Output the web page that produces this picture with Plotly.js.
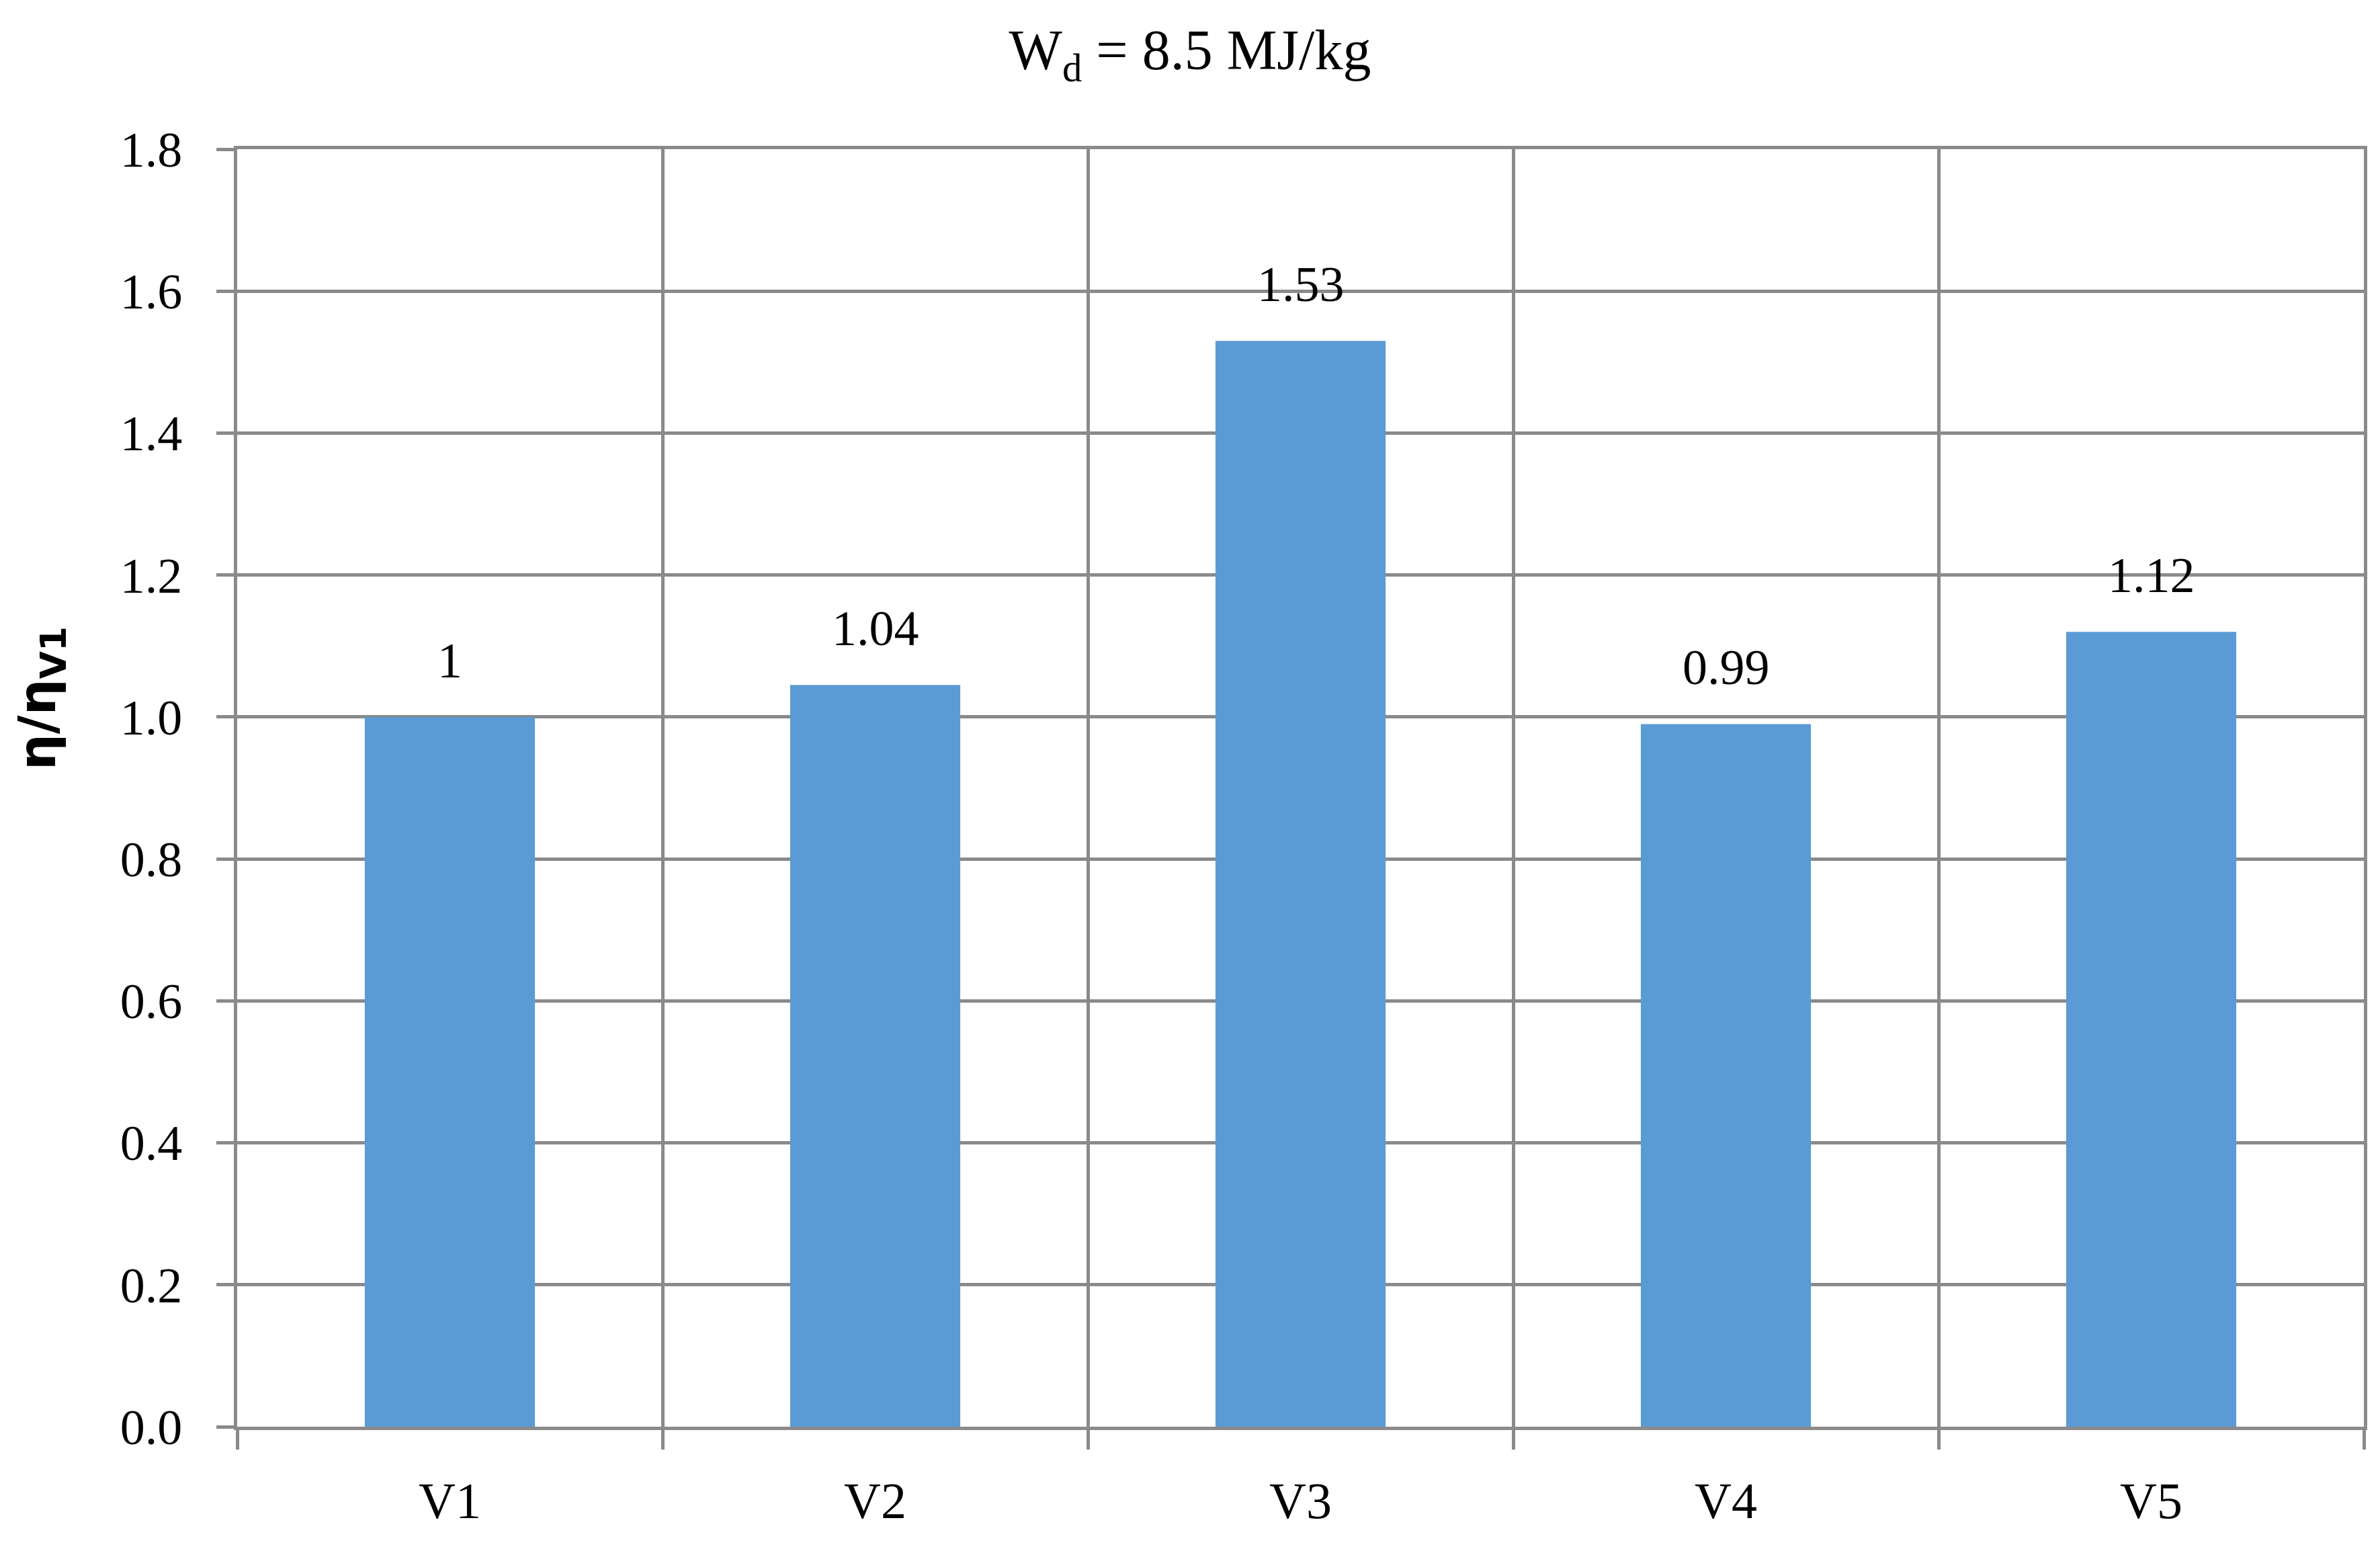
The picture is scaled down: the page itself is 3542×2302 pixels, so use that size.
<!DOCTYPE html>
<html>
<head>
<meta charset="utf-8">
<script src="https://cdn.plot.ly/plotly-3.0.1.min.js"></script>
<style>html,body{margin:0;padding:0;background:#fff;}#chart{width:3542px;height:2302px;}</style>
</head>
<body>
<div id="chart"></div>
<script>
const categories = ["V1", "V2", "V3", "V4", "V5"];
const values = [1, 1.045, 1.53, 0.99, 1.12];
const labels = ["1", "1.04", "1.53", "0.99", "1.12"];
const titleText = "W<sub>d</sub> = 8.5 MJ/kg";
const yTitleText = "η/η<sub>V1</sub>";

const gridColor = "#8a8a8a";
const serif = "Liberation Serif, Times New Roman, serif";

const trace = {
  type: "bar",
  x: categories,
  y: values,
  width: 0.4,
  marker: {color: "#5b9bd5"},
  hoverinfo: "none"
};

const annotations = categories.map((c, i) => ({
  x: c, y: values[i], xref: "x", yref: "y",
  text: labels[i], showarrow: false,
  yanchor: "bottom", yshift: 41,
  font: {family: serif, size: 74, color: "#000"}
}));
annotations.push({
  xref: "paper", yref: "paper", x: -0.092, y: 0.57,
  text: yTitleText, showarrow: false, textangle: -90,
  xanchor: "center", yanchor: "middle",
  font: {family: "DejaVu Sans, sans-serif", size: 76, color: "#000", weight: "bold"}
});

const layout = {
  width: 3542, height: 2302,
  margin: {l: 353, r: 24, t: 222, b: 179},
  paper_bgcolor: "#fff", plot_bgcolor: "#fff",
  showlegend: false,
  title: {text: titleText, x: 0.5, xanchor: "center", y: 0.968, yanchor: "middle",
          font: {family: serif, size: 84, color: "#000"}},
  xaxis: {
    type: "category",
    tickson: "boundaries",
    ticks: "outside", ticklen: 29, tickwidth: 5, tickcolor: gridColor,
    showgrid: true, gridcolor: gridColor, gridwidth: 5,
    showline: true, linecolor: gridColor, linewidth: 5, mirror: true,
    tickfont: {family: serif, size: 76, color: "#000"},
    ticklabelstandoff: 40
  },
  yaxis: {
    range: [0, 1.8], dtick: 0.2, tick0: 0, tickformat: ".1f",
    ticks: "outside", ticklen: 26, tickwidth: 5, tickcolor: gridColor,
    showgrid: true, gridcolor: gridColor, gridwidth: 5,
    zeroline: false,
    showline: true, linecolor: gridColor, linewidth: 5, mirror: true,
    tickfont: {family: serif, size: 74, color: "#000"},
    ticklabelstandoff: 36
  },
  annotations: annotations
};

Plotly.newPlot("chart", [trace], layout, {staticPlot: true});
</script>
</body>
</html>
